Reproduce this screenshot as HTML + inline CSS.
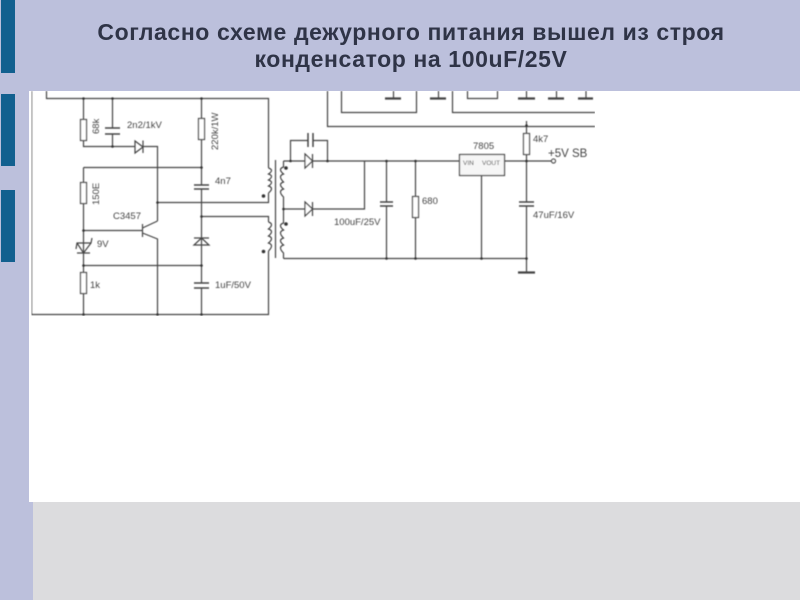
<!DOCTYPE html>
<html><head><meta charset="utf-8"><style>
html,body{margin:0;padding:0;background:#fff}
body{width:800px;height:600px;overflow:hidden}
svg{display:block}
.t{font-family:"Liberation Sans",sans-serif;font-weight:bold;font-size:23px;fill:#2f3447;text-anchor:middle;letter-spacing:.6px}
.l{font-family:"Liberation Sans",sans-serif;font-size:9.5px;fill:#444}
</style></head><body>
<svg width="800" height="600" viewBox="0 0 800 600" xmlns="http://www.w3.org/2000/svg">
<defs><filter id="b" x="0" y="0" width="100%" height="100%"><feGaussianBlur stdDeviation="0.4"/></filter></defs>
<rect width="800" height="600" fill="#fff"/>
<rect x="33" y="502" width="767" height="98" fill="#dcdcde"/>
<g filter="url(#b)">
<g fill="none" stroke="#444" stroke-width="1.2">
<path d="M31.5 91V314.5H268.5V258M46.5 91V98.5H268.5V168M83.5 98.5V119M83.5 140V146.5H135M143 146.5H157.5V221M112.5 98.5V128M112.5 134V146.5"/>
<path d="M105 128H120M105 134H120" stroke-width="1.5"/>
<path d="M201.5 98.5V118M201.5 140V185M201.5 189V283M201.5 288V314.5M83.5 167.5H201.5M83.5 167.5V182M83.5 203V272M83.5 294V314.5M83.5 230.5H142M83.5 265.5H201.5M157.5 202.5H268.5V193M201.5 216.5H268.5V222M268.5 251V258"/>
<path d="M194 185H209M194 189H209M194 283H209M194 288H209" stroke-width="1.5"/>
<rect x="80.500" y="119.500" width="6" height="21" fill="#fff"/>
<rect x="198.500" y="118.500" width="6" height="21" fill="#fff"/>
<rect x="80.500" y="182.500" width="6" height="21" fill="#fff"/>
<rect x="80.500" y="272.500" width="6" height="21" fill="#fff"/>
<path d="M143 140.500V153M143 147L135 141V153L143 147"/>
<path d="M201.500 238L194 245H209ZM194 238H209" />
<path d="M76 249L77 243H91L92 238M77 243L83.500 253L91 243M77 253H90" />
<path d="M142.500 224V237M142.500 228L157.500 221M142.500 233L157.500 239V314"/>
<path d="M268.500 168q6 2 0 6q6 2 0 6q6 2 0 6q6 2 0 7M268.500 222q6 2 0 7q6 2 0 7q6 2 0 7q6 2 0 8"/>
<path d="M275.500 160V258"/>
<path d="M283.500 161V167q-6 2 0 7q-6 2 0 8q-6 2 0 7q-6 2 0 8V223q-6 2 0 7q-6 2 0 8q-6 2 0 7q-6 2 0 8V258.500"/>
<path d="M283.500 161H459M504 161H553M283.500 209H364.500V161M290.500 161V140.500H308M313 140.500H327.500V161M283.500 258.500H526.500"/>
<path d="M308 133V147M313 133V147" stroke-width="1.5"/>
<path d="M305 154L312.500 161L305 168ZM312.500 154V168M305 202L312.500 209L305 216ZM312.500 202V216" fill="#fff"/>
<path d="M386.500 161V202M386.500 206V258.500M415.500 161V196M415.500 217V258.500M481.500 175V258.500M526.500 121V133M526.500 154V202M526.500 206V272"/>
<path d="M380 202H393M380 206H393M519 202H534M519 206H534" stroke-width="1.5"/>
<rect x="412.500" y="196.500" width="6" height="21" fill="#fff"/>
<rect x="523.500" y="133.500" width="6" height="21" fill="#fff"/>
<rect x="459.500" y="154.500" width="45" height="21" fill="#f6f6f6"/>
<circle cx="553.500" cy="161" r="2" fill="#fff"/>
<path d="M327.500 91V126.500H595M341.500 91V112.500H416.500V91M452.500 91V112.500H595M467.500 91V98.500H497.500V91M393.500 91V98M438.500 91V98M526.500 91V98M556.500 91V98M586 91V98"/>
<path d="M385 98.500H401M430 98.500H446M518 98.500H535M548 98.500H564M578 98.500H593M518 272.500H535" stroke-width="2.200"/>
</g>
<g fill="#333">
<circle cx="83.500" cy="98.500" r="1.300"/><circle cx="112.500" cy="98.500" r="1.300"/><circle cx="201.500" cy="98.500" r="1.300"/><circle cx="112.500" cy="146.500" r="1.300"/><circle cx="201.500" cy="167.500" r="1.300"/><circle cx="157.500" cy="202.500" r="1.300"/><circle cx="201.500" cy="216.500" r="1.300"/><circle cx="83.500" cy="230.500" r="1.300"/><circle cx="83.500" cy="265.500" r="1.300"/><circle cx="201.500" cy="265.500" r="1.300"/><circle cx="83.500" cy="314.500" r="1.300"/><circle cx="157.500" cy="314.500" r="1.300"/><circle cx="201.500" cy="314.500" r="1.300"/>
<circle cx="263.500" cy="196" r="1.800"/><circle cx="263.500" cy="251.500" r="1.800"/><circle cx="286" cy="168" r="1.800"/><circle cx="286" cy="224" r="1.800"/>
<circle cx="290.500" cy="161" r="1.300"/><circle cx="327.500" cy="161" r="1.300"/><circle cx="283.500" cy="209" r="1.300"/><circle cx="386.500" cy="161" r="1.300"/><circle cx="415.500" cy="161" r="1.300"/><circle cx="386.500" cy="258.500" r="1.300"/><circle cx="415.500" cy="258.500" r="1.300"/><circle cx="481.500" cy="258.500" r="1.300"/><circle cx="526.500" cy="258.500" r="1.300"/><circle cx="526.500" cy="161" r="1.300"/><circle cx="526.500" cy="125.500" r="1.300"/>
</g>
<text class="l" x="127" y="128">2n2/1kV</text>
<text class="l" x="0" y="0" transform="translate(99,134) rotate(-90)">68k</text>
<text class="l" x="0" y="0" transform="translate(218,150) rotate(-90)">220k/1W</text>
<text class="l" x="0" y="0" transform="translate(99,205) rotate(-90)">150E</text>
<text class="l" x="215" y="184">4n7</text>
<text class="l" x="113" y="219">C3457</text>
<text class="l" x="97" y="247">9V</text>
<text class="l" x="90" y="288">1k</text>
<text class="l" x="215" y="288">1uF/50V</text>
<text class="l" x="334" y="225">100uF/25V</text>
<text class="l" x="422" y="204">680</text>
<text class="l" x="473" y="149">7805</text>
<text class="l" x="533" y="142">4k7</text>
<text class="l" x="533" y="218">47uF/16V</text>
<text class="l" x="548" y="157" style="font-size:11.500px">+5V SB</text>
<text class="l" x="463" y="165" style="font-size:6.500px">VIN</text>
<text class="l" x="482" y="165" style="font-size:6.500px">VOUT</text>
</g>
<rect x="0" y="0" width="800" height="91" fill="#bcc0dc"/>
<rect x="0" y="91" width="29" height="411" fill="#bcc0dc"/>
<rect x="0" y="502" width="33" height="98" fill="#bcc0dc"/>
<rect x="1" y="0" width="14" height="73" fill="#12608f"/>
<rect x="1" y="94" width="14" height="72" fill="#12608f"/>
<rect x="1" y="190" width="14" height="72" fill="#12608f"/>
<text class="t" x="411" y="40">Согласно схеме дежурного питания вышел из строя</text>
<text class="t" x="411" y="67">конденсатор на 100uF/25V</text>
</svg>
</body></html>
